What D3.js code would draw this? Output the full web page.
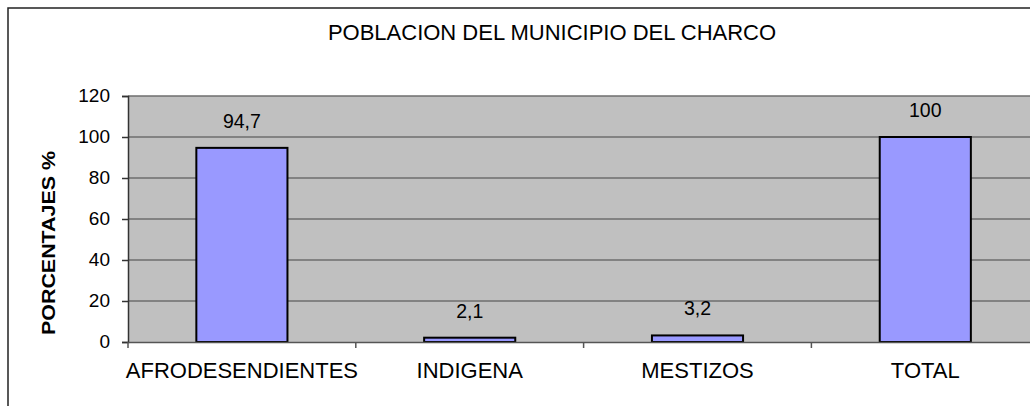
<!DOCTYPE html>
<html>
<head>
<meta charset="utf-8">
<script src="https://cdn.jsdelivr.net/npm/d3@7"></script>
<style>
body { margin: 0; background: #fff; }
svg { display: block; font-family: "Liberation Sans", Arial, sans-serif; }
</style>
</head>
<body>
<script>
var w = 1030;
var h = 406;

// data
var categories = ["AFRODESENDIENTES", "INDIGENA", "MESTIZOS", "TOTAL"];
var values = [94.7, 2.1, 3.2, 100];
var valueLabels = ["94,7", "2,1", "3,2", "100"];
var yTicks = [0, 20, 40, 60, 80, 100, 120];

// plot box ("top" is taken by window.top, so other names)
var plotLeft = 128, plotTop = 96, plotBottom = 342;
var step = 227.8;
var plotRight = plotLeft + step * categories.length;

var svg = d3.select("body")
            .append("svg")
            .attr("width", w)
            .attr("height", h);

// outer frame (runs past the right and bottom edges)
svg.append("rect")
   .attr("x", 8).attr("y", 8)
   .attr("width", 1100).attr("height", 500)
   .style("fill", "#fff")
   .style("stroke", "#222")
   .style("stroke-width", 1.5);

var xScale = d3.scaleBand()
               .domain(categories)
               .range([plotLeft, plotRight])
               .padding(0);
var yScale = d3.scaleLinear()
               .domain([0, 120])
               .range([plotBottom, plotTop]);

// plot background
svg.append("rect")
   .attr("x", plotLeft).attr("y", plotTop)
   .attr("width", plotRight - plotLeft).attr("height", plotBottom - plotTop)
   .style("fill", "#c0c0c0");

// gridlines
svg.selectAll("line.grid")
   .data(yTicks.filter(function(d) { return d > 0; }))
   .enter()
   .append("line")
   .attr("class", "grid")
   .attr("x1", plotLeft).attr("x2", plotRight)
   .attr("y1", function(d) { return yScale(d); })
   .attr("y2", function(d) { return yScale(d); })
   .style("stroke", "#6e6e6e")
   .style("stroke-width", 1.5);

// bars
var bw = xScale.bandwidth() * 0.4;
svg.selectAll("rect.bar")
   .data(values)
   .enter()
   .append("rect")
   .attr("class", "bar")
   .attr("x", function(d, i) { return xScale(categories[i]) + (xScale.bandwidth() - bw) / 2; })
   .attr("y", function(d) { return yScale(d); })
   .attr("width", bw)
   .attr("height", function(d) { return plotBottom - yScale(d); })
   .style("fill", "#9999ff")
   .style("stroke", "#000")
   .style("stroke-width", 2);

// value labels
svg.selectAll("text.val")
   .data(values)
   .enter()
   .append("text")
   .attr("class", "val")
   .attr("x", function(d, i) { return xScale(categories[i]) + xScale.bandwidth() / 2; })
   .attr("y", function(d) { return yScale(d) - 20; })
   .attr("text-anchor", "middle")
   .style("font-size", "19.5px")
   .style("fill", "#000")
   .text(function(d, i) { return valueLabels[i]; });

// y axis
var yAxis = d3.axisLeft(yScale)
              .tickValues(yTicks)
              .tickSize(6)
              .tickPadding(12);
var gy = svg.append("g")
            .attr("transform", "translate(" + plotLeft + ",0)")
            .call(yAxis);
gy.select(".domain").style("stroke", "#333").style("stroke-width", 1.5);
gy.selectAll(".tick line").style("stroke", "#333").style("stroke-width", 1.5);
gy.selectAll(".tick text")
  .attr("dy", "0.28em")
  .style("font-size", "19px")
  .style("font-family", "Liberation Sans, Arial, sans-serif")
  .style("fill", "#000");

// x axis, ticks on category boundaries
var xAxis = d3.axisBottom(xScale).tickSize(0).tickPadding(20);
var gx = svg.append("g")
            .attr("transform", "translate(0," + plotBottom + ")")
            .call(xAxis);
gx.select(".domain").style("stroke", "#555").style("stroke-width", 1.5);
gx.selectAll(".tick text")
  .attr("dy", "0.71em")
  .style("font-size", "22px")
  .style("font-family", "Liberation Sans, Arial, sans-serif")
  .style("fill", "#000");
gx.selectAll("line.bnd")
  .data(categories)
  .enter()
  .append("line")
  .attr("class", "bnd")
  .attr("x1", function(d) { return xScale(d); })
  .attr("x2", function(d) { return xScale(d); })
  .attr("y1", 0).attr("y2", 6)
  .style("stroke", "#555")
  .style("stroke-width", 1.5);

// title
svg.append("text")
   .attr("x", 552).attr("y", 40)
   .attr("text-anchor", "middle")
   .style("font-size", "22px")
   .text("POBLACION DEL MUNICIPIO DEL CHARCO");

// y axis title
svg.append("text")
   .attr("transform", "translate(55,243) rotate(-90)")
   .attr("text-anchor", "middle")
   .attr("textLength", 184)
   .attr("lengthAdjust", "spacingAndGlyphs")
   .style("font-size", "19px")
   .style("font-weight", "bold")
   .text("PORCENTAJES %");
</script>
</body>
</html>
